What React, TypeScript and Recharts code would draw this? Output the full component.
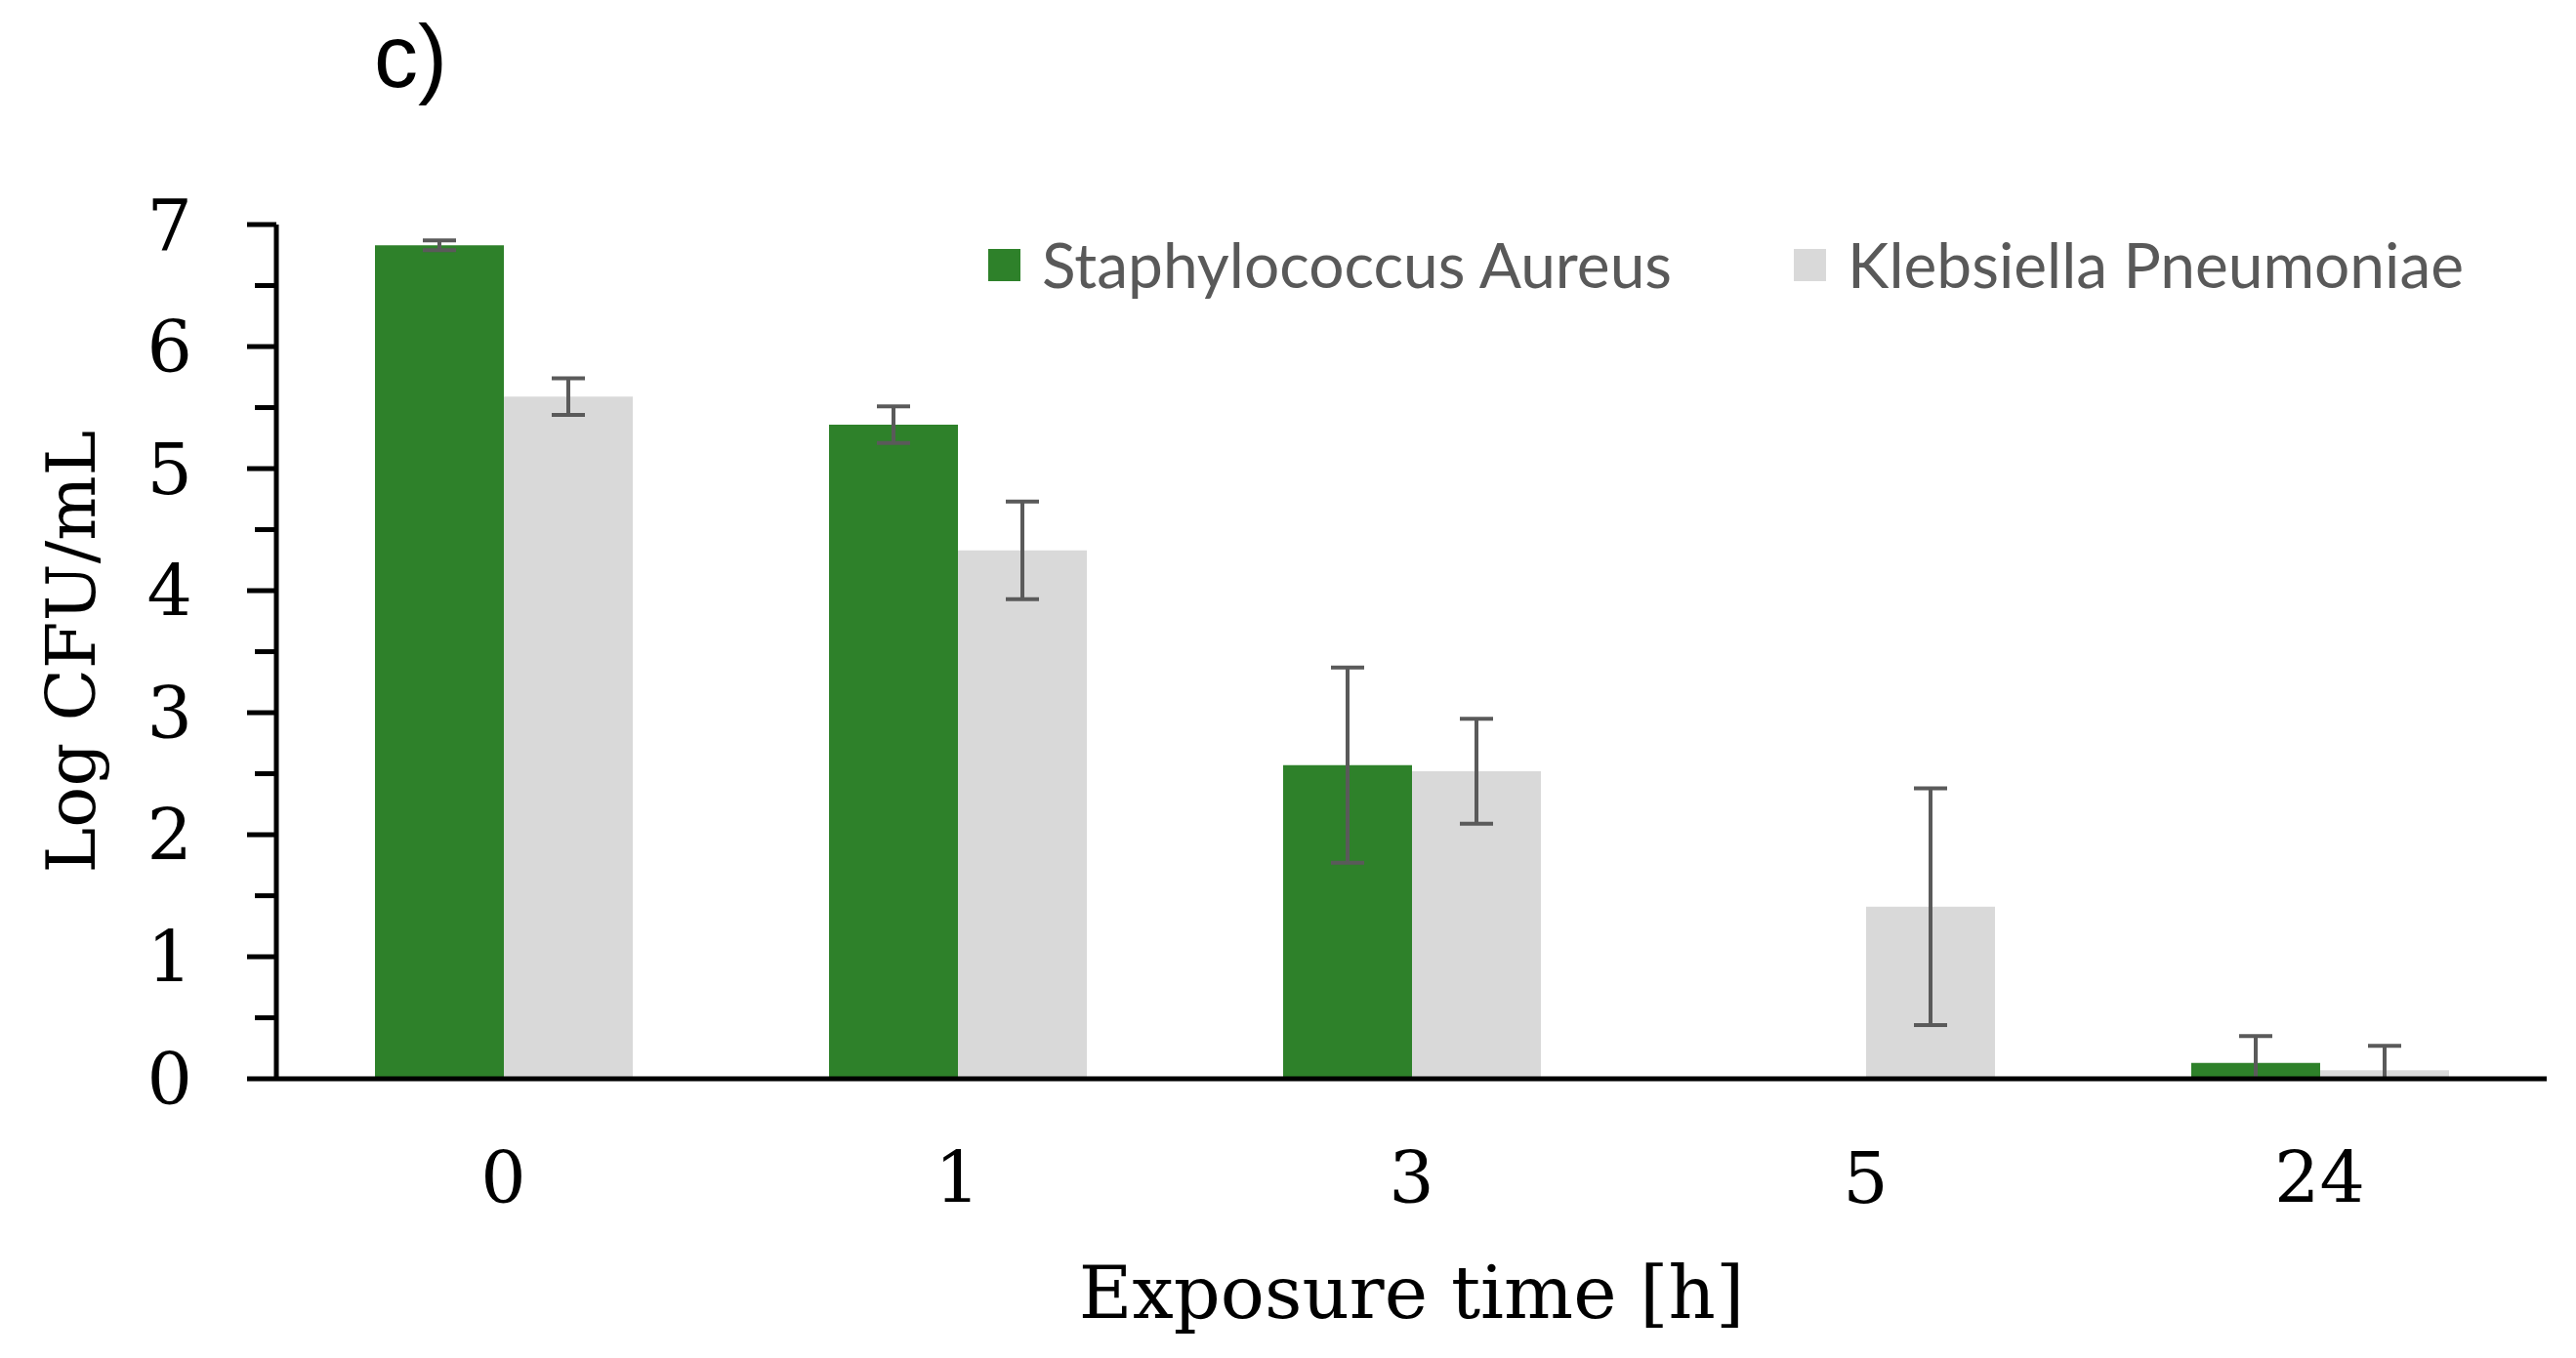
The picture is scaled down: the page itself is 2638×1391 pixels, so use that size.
import React from 'react';
import { BarChart, Bar, XAxis, YAxis, ErrorBar, Legend } from 'recharts';

// exposure times (h) and log CFU/mL means with their error (±)
const hours = ['0', '1', '3', '5', '24'];
const staphMean = [6.83, 5.36, 2.57, 0, 0.13];
const staphErr = [0.04, 0.15, 0.8, 0, 0.22];
const klebMean = [5.59, 4.33, 2.52, 1.41, 0.07];
const klebErr = [0.15, 0.4, 0.43, 0.97, 0.2];
const yTicks = [0, 0.5, 1, 1.5, 2, 2.5, 3, 3.5, 4, 4.5, 5, 5.5, 6, 6.5, 7];
const seriesNames = ['Staphylococcus Aureus', 'Klebsiella Pneumoniae'];

const GREEN = '#2E812A';
const GREY = '#D9D9D9';
const SERIF = '"DejaVu Serif", serif';

// lower whisker is cut at the axis, as in the original plot
const errRange = (mean: number, err: number) => (err > 0 ? [Math.min(err, mean), err] : 0);

const data = hours.map((h, i) => ({
  hour: h,
  staph: staphMean[i],
  staphErr: errRange(staphMean[i], staphErr[i]),
  kleb: klebMean[i],
  klebErr: errRange(klebMean[i], klebErr[i]),
}));

const YTick = ({ x, y, payload }: any) => {
  const major = Number.isInteger(payload.value);
  return (
    <g>
      <line x1={x} x2={x - (major ? 30 : 22)} y1={y} y2={y} stroke="#000" strokeWidth={5} />
      {major && (
        <text x={x - 86} y={y} dy="0.36em" textAnchor="end" fontFamily={SERIF} fontSize={73} fill="#000">
          {payload.value}
        </text>
      )}
    </g>
  );
};

const XTick = ({ x, y, payload }: any) => (
  <text x={x} y={y + 127} textAnchor="middle" fontFamily={SERIF} fontSize={73} fill="#000">
    {payload.value}
  </text>
);

const renderLegend = ({ payload }: any) => {
  const items = [...(payload || [])].sort(
    (a: any, b: any) => seriesNames.indexOf(a.value) - seriesNames.indexOf(b.value)
  );
  return (
    <div style={{ display: 'flex', alignItems: 'center', gap: 125 }}>
      {items.map((item: any) => (
        <div key={item.value} style={{ display: 'flex', alignItems: 'center' }}>
          <div style={{ width: 33, height: 33, background: item.color, marginRight: 22 }} />
          <span style={{ fontFamily: 'Lato, sans-serif', fontSize: 64, lineHeight: 1, color: '#595959' }}>
            {item.value}
          </span>
        </div>
      ))}
    </div>
  );
};

export default function App() {
  return (
    <div style={{ position: 'absolute', left: 0, top: 0, width: 2638, height: 1391, background: '#fff' }}>
      <div
        style={{
          position: 'absolute',
          left: 383,
          top: 13,
          fontFamily: '"Liberation Sans", Arial, sans-serif',
          fontSize: 90,
          lineHeight: 1,
          color: '#000',
        }}
      >
        c)
      </div>
      <BarChart
        width={2638}
        height={1391}
        data={data}
        margin={{ top: 230, right: 30, bottom: 26, left: 83 }}
        barCategoryGap={101}
        barGap={0}
      >
        <Legend
          layout="horizontal"
          verticalAlign="middle"
          align="center"
          wrapperStyle={{ left: 1012, top: 239, width: 'auto' }}
          content={renderLegend}
        />
        <Bar dataKey="staph" name={seriesNames[0]} fill={GREEN} isAnimationActive={false}>
          <ErrorBar dataKey="staphErr" width={17} stroke="#5a5a5a" strokeWidth={4} direction="y" />
        </Bar>
        <Bar dataKey="kleb" name={seriesNames[1]} fill={GREY} isAnimationActive={false}>
          <ErrorBar dataKey="klebErr" width={17} stroke="#5a5a5a" strokeWidth={4} direction="y" />
        </Bar>
        <YAxis
          type="number"
          domain={[0, 7]}
          ticks={yTicks}
          interval={0}
          width={200}
          tickLine={false}
          tickSize={0}
          tickMargin={0}
          axisLine={{ stroke: '#000', strokeWidth: 5 }}
          tick={<YTick />}
          label={{
            content: ({ viewBox }: any) => {
              const cx = viewBox.x + 14;
              const cy = viewBox.y + viewBox.height / 2;
              return (
                <text
                  x={cx}
                  y={cy}
                  transform={`rotate(-90, ${cx}, ${cy})`}
                  textAnchor="middle"
                  fontFamily={SERIF}
                  fontSize={70}
                  fill="#000"
                >
                  Log CFU/mL
                </text>
              );
            },
          }}
        />
        <XAxis
          dataKey="hour"
          height={260}
          tickLine={false}
          tickSize={0}
          tickMargin={0}
          interval={0}
          axisLine={{ stroke: '#000', strokeWidth: 5 }}
          tick={<XTick />}
          label={{
            content: ({ viewBox }: any) => (
              <text
                x={viewBox.x + viewBox.width / 2}
                y={viewBox.y + 245}
                textAnchor="middle"
                fontFamily={SERIF}
                fontSize={75}
                fill="#000"
              >
                Exposure time [h]
              </text>
            ),
          }}
        />
      </BarChart>
    </div>
  );
}
